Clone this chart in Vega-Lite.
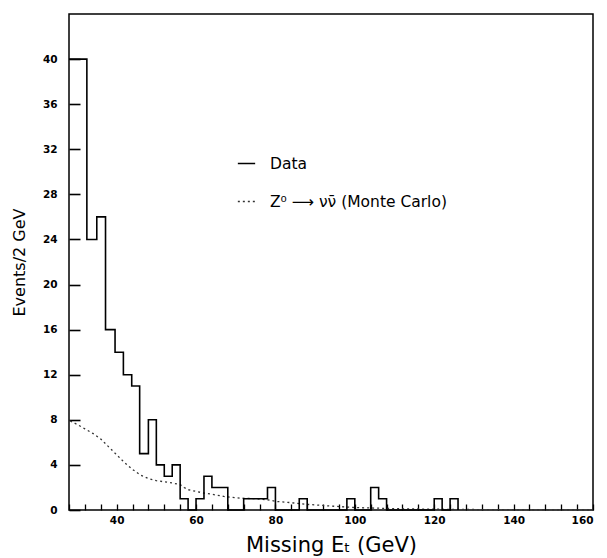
{
  "$schema": "https://vega.github.io/schema/vega-lite/v6.json",
  "width": 524,
  "height": 496,
  "autosize": "none",
  "padding": {"left": 69, "top": 14, "right": 14, "bottom": 48},
  "config": {
    "view": {"stroke": "black", "strokeWidth": 1.5},
    "font": "DejaVu Sans",
    "axis": {"grid": false, "domain": false, "tickColor": "black", "labelColor": "black", "titleColor": "black", "labelOverlap": false}
  },
  "resolve": {"scale": {"x": "independent", "y": "independent"}},
  "datasets": {
    "hist": [
      {"series": "Data", "lo": 28.0, "hi": 30.2, "count": 40},
      {"series": "Data", "lo": 30.2, "hi": 32.5, "count": 40},
      {"series": "Data", "lo": 32.5, "hi": 35.0, "count": 24},
      {"series": "Data", "lo": 35.0, "hi": 37.2, "count": 26},
      {"series": "Data", "lo": 37.2, "hi": 39.6, "count": 16},
      {"series": "Data", "lo": 39.6, "hi": 41.7, "count": 14},
      {"series": "Data", "lo": 41.7, "hi": 43.8, "count": 12},
      {"series": "Data", "lo": 43.8, "hi": 45.8, "count": 11},
      {"series": "Data", "lo": 45.8, "hi": 48.0, "count": 5},
      {"series": "Data", "lo": 48.0, "hi": 50.0, "count": 8},
      {"series": "Data", "lo": 50.0, "hi": 52.0, "count": 4},
      {"series": "Data", "lo": 52.0, "hi": 54.0, "count": 3},
      {"series": "Data", "lo": 54.0, "hi": 56.0, "count": 4},
      {"series": "Data", "lo": 56.0, "hi": 58.0, "count": 1},
      {"series": "Data", "lo": 58.0, "hi": 60.0, "count": 0},
      {"series": "Data", "lo": 60.0, "hi": 62.0, "count": 1},
      {"series": "Data", "lo": 62.0, "hi": 64.0, "count": 3},
      {"series": "Data", "lo": 64.0, "hi": 68.0, "count": 2},
      {"series": "Data", "lo": 68.0, "hi": 72.0, "count": 0},
      {"series": "Data", "lo": 72.0, "hi": 78.0, "count": 1},
      {"series": "Data", "lo": 78.0, "hi": 80.0, "count": 2},
      {"series": "Data", "lo": 80.0, "hi": 86.0, "count": 0},
      {"series": "Data", "lo": 86.0, "hi": 88.0, "count": 1},
      {"series": "Data", "lo": 88.0, "hi": 98.0, "count": 0},
      {"series": "Data", "lo": 98.0, "hi": 100.0, "count": 1},
      {"series": "Data", "lo": 100.0, "hi": 104.0, "count": 0},
      {"series": "Data", "lo": 104.0, "hi": 106.0, "count": 2},
      {"series": "Data", "lo": 106.0, "hi": 108.0, "count": 1},
      {"series": "Data", "lo": 108.0, "hi": 120.0, "count": 0},
      {"series": "Data", "lo": 120.0, "hi": 122.0, "count": 1},
      {"series": "Data", "lo": 122.0, "hi": 124.0, "count": 0},
      {"series": "Data", "lo": 124.0, "hi": 126.0, "count": 1},
      {"series": "Data", "lo": 126.0, "hi": 160.0, "count": 0}
    ],
    "mc": [
      {"series": "Z⁰ ⟶ νν̄ (Monte Carlo)", "e": 28.3, "v": 7.9},
      {"series": "Z⁰ ⟶ νν̄ (Monte Carlo)", "e": 30, "v": 7.6},
      {"series": "Z⁰ ⟶ νν̄ (Monte Carlo)", "e": 32, "v": 7.2},
      {"series": "Z⁰ ⟶ νν̄ (Monte Carlo)", "e": 34, "v": 6.8},
      {"series": "Z⁰ ⟶ νν̄ (Monte Carlo)", "e": 36, "v": 6.3},
      {"series": "Z⁰ ⟶ νν̄ (Monte Carlo)", "e": 38, "v": 5.6},
      {"series": "Z⁰ ⟶ νν̄ (Monte Carlo)", "e": 40, "v": 4.9},
      {"series": "Z⁰ ⟶ νν̄ (Monte Carlo)", "e": 42, "v": 4.2},
      {"series": "Z⁰ ⟶ νν̄ (Monte Carlo)", "e": 44, "v": 3.6},
      {"series": "Z⁰ ⟶ νν̄ (Monte Carlo)", "e": 46, "v": 3.1},
      {"series": "Z⁰ ⟶ νν̄ (Monte Carlo)", "e": 48, "v": 2.8},
      {"series": "Z⁰ ⟶ νν̄ (Monte Carlo)", "e": 50, "v": 2.6},
      {"series": "Z⁰ ⟶ νν̄ (Monte Carlo)", "e": 52, "v": 2.5},
      {"series": "Z⁰ ⟶ νν̄ (Monte Carlo)", "e": 54, "v": 2.4},
      {"series": "Z⁰ ⟶ νν̄ (Monte Carlo)", "e": 56, "v": 2.25},
      {"series": "Z⁰ ⟶ νν̄ (Monte Carlo)", "e": 57, "v": 2.0},
      {"series": "Z⁰ ⟶ νν̄ (Monte Carlo)", "e": 58, "v": 1.8},
      {"series": "Z⁰ ⟶ νν̄ (Monte Carlo)", "e": 60, "v": 1.65},
      {"series": "Z⁰ ⟶ νν̄ (Monte Carlo)", "e": 62, "v": 1.5},
      {"series": "Z⁰ ⟶ νν̄ (Monte Carlo)", "e": 64, "v": 1.4},
      {"series": "Z⁰ ⟶ νν̄ (Monte Carlo)", "e": 67, "v": 1.2},
      {"series": "Z⁰ ⟶ νν̄ (Monte Carlo)", "e": 71, "v": 1.05},
      {"series": "Z⁰ ⟶ νν̄ (Monte Carlo)", "e": 75, "v": 1.0},
      {"series": "Z⁰ ⟶ νν̄ (Monte Carlo)", "e": 78, "v": 0.9},
      {"series": "Z⁰ ⟶ νν̄ (Monte Carlo)", "e": 80.5, "v": 0.75},
      {"series": "Z⁰ ⟶ νν̄ (Monte Carlo)", "e": 84, "v": 0.65},
      {"series": "Z⁰ ⟶ νν̄ (Monte Carlo)", "e": 88, "v": 0.5},
      {"series": "Z⁰ ⟶ νν̄ (Monte Carlo)", "e": 94, "v": 0.35},
      {"series": "Z⁰ ⟶ νν̄ (Monte Carlo)", "e": 100, "v": 0.22},
      {"series": "Z⁰ ⟶ νν̄ (Monte Carlo)", "e": 110, "v": 0.12},
      {"series": "Z⁰ ⟶ νν̄ (Monte Carlo)", "e": 120, "v": 0.07},
      {"series": "Z⁰ ⟶ νν̄ (Monte Carlo)", "e": 135, "v": 0.03},
      {"series": "Z⁰ ⟶ νν̄ (Monte Carlo)", "e": 160, "v": 0.0}
    ]
  },
  "layer": [
    {
      "data": {"name": "mc"},
      "mark": {"type": "line", "strokeWidth": 1.3, "interpolate": "linear"},
      "encoding": {
        "x": {"field": "e", "type": "quantitative",
              "scale": {"domain": [28, 160], "nice": false, "zero": false},
              "axis": {"orient": "bottom", "offset": -6, "tickSize": 6, "ticks": true, "tickWidth": 1.3, "labels": false, "title": null,
                       "values": [28, 32, 36, 40, 44, 48, 52, 56, 60, 64, 68, 72, 76, 80, 84, 88, 92, 96, 100, 104, 108, 112, 116, 120, 124, 128, 132, 136, 140, 144, 148, 152, 156, 160]}},
        "y": {"field": "v", "type": "quantitative",
              "scale": {"domain": [0, 44], "nice": false},
              "axis": {"orient": "left", "offset": -11, "tickSize": 11, "ticks": true, "tickWidth": 1.6, "labels": false, "title": null,
                       "values": [0, 4, 8, 12, 16, 20, 24, 28, 32, 36, 40]}},
        "color": {"field": "series", "type": "nominal",
                  "scale": {"domain": ["Data", "Z⁰ ⟶ νν̄ (Monte Carlo)"], "range": ["black", "#333333"]},
                  "legend": {"orient": "none", "legendX": 168, "legendY": 140, "title": null, "symbolType": "stroke", "symbolSize": 300, "symbolStrokeWidth": 1.3, "labelFontSize": 15.5, "labelFont": "DejaVu Sans", "labelLimit": 400, "rowPadding": 20, "labelOffset": 14}},
        "strokeDash": {"field": "series", "type": "nominal",
                  "scale": {"domain": ["Data", "Z⁰ ⟶ νν̄ (Monte Carlo)"], "range": [[1, 0], [2, 3]]},
                  "legend": {"orient": "none", "legendX": 168, "legendY": 140, "title": null, "symbolType": "stroke", "symbolSize": 300, "symbolStrokeWidth": 1.3, "labelFontSize": 15.5, "labelFont": "DejaVu Sans", "labelLimit": 400, "rowPadding": 20, "labelOffset": 14}}
      }
    },
    {
      "data": {"name": "hist"},
      "mark": {"type": "line", "strokeWidth": 1.6, "interpolate": "step-after"},
      "encoding": {
        "x": {"field": "lo", "type": "quantitative",
              "scale": {"domain": [28, 160], "nice": false, "zero": false},
              "axis": {"orient": "bottom", "values": [40, 60, 80, 100, 120, 140, 160], "labelOverlap": false,
                       "ticks": false, "labelFontSize": 10.5, "labelFontWeight": "bold", "labelPadding": 5,
                       "title": "Missing Eₜ (GeV)", "titleFontSize": 21, "titleFontWeight": "normal", "titleFont": "DejaVu Sans", "titlePadding": 9}},
        "y": {"field": "count", "type": "quantitative",
              "scale": {"domain": [0, 44], "nice": false},
              "axis": {"orient": "left", "values": [0, 4, 8, 12, 16, 20, 24, 28, 32, 36, 40], "labelOverlap": false,
                       "ticks": false, "labelFontSize": 10.5, "labelFontWeight": "bold", "labelPadding": 12,
                       "title": "Events/2 GeV", "titleFontSize": 16, "titleFontWeight": "normal", "titleFont": "DejaVu Sans", "titlePadding": 15}},
        "color": {"field": "series", "type": "nominal"},
        "strokeDash": {"field": "series", "type": "nominal"}
      }
    }
  ]
}
